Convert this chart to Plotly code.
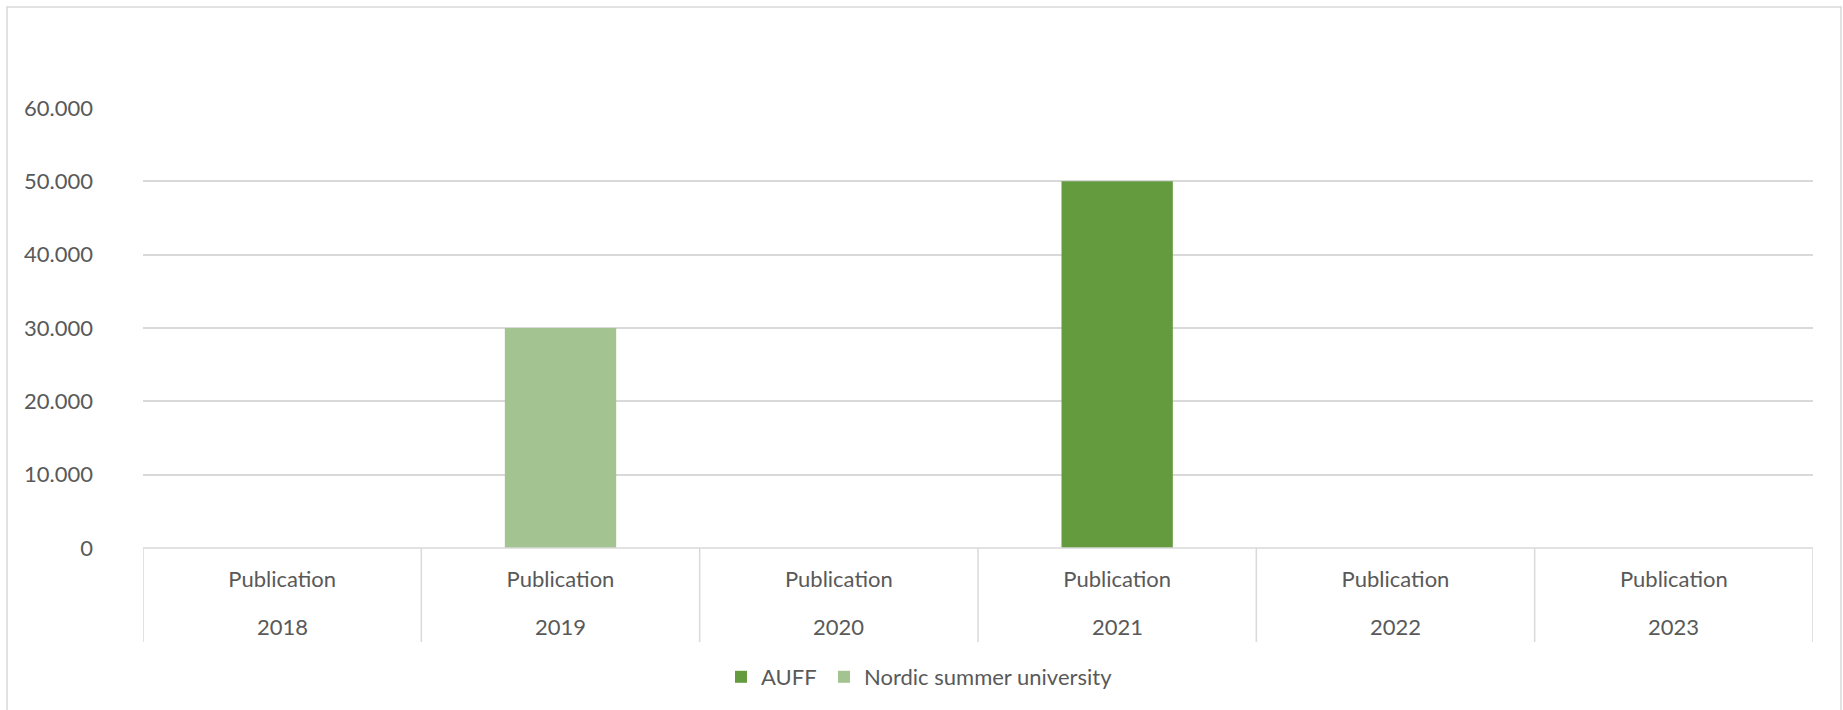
import plotly.graph_objects as go

years = ["2018", "2019", "2020", "2021", "2022", "2023"]
inner_label = "Publication"
auff = [None, None, None, 50000, None, None]
nordic = [None, 30000, None, None, None, None]
y_ticks = [0, 10000, 20000, 30000, 40000, 50000, 60000]
y_labels = ["0", "10.000", "20.000", "30.000", "40.000", "50.000", "60.000"]

FONT = "Lato"
TXT = "#595959"
GRID = "#D9D9D9"
FS = 22

W, H = 1843, 710
L, R, T, B = 143, 30, 108, 162
PH = H - T - B
PW = W - L - R

fig = go.Figure()
fig.add_trace(go.Bar(name="AUFF", x=years, y=auff, marker_color="#639B3E",
                     marker_line_width=0, legend="legend"))
fig.add_trace(go.Bar(name="Nordic summer university", x=years, y=nordic,
                     marker_color="#A3C490", marker_line_width=0, legend="legend2"))

shapes = [dict(type="rect", xref="paper", yref="paper",
               x0=(7 - L) / PW, x1=(1841 - L) / PW,
               y0=-(730 - T - PH) / PH, y1=(T + PH - 7) / PH,
               line=dict(color=GRID, width=1.5), layer="below")]
# category box: top line + vertical dividers at category boundaries
box_depth = (642 - (T + PH)) / PH
shapes.append(dict(type="line", xref="paper", yref="paper", x0=0, x1=1, y0=0, y1=0,
                   line=dict(color=GRID, width=1.5)))
for i in range(len(years) + 1):
    shapes.append(dict(type="line", xref="x", yref="paper", x0=i - 0.5, x1=i - 0.5,
                       y0=0, y1=-box_depth, line=dict(color=GRID, width=1.5)))

# outer category level (years)
annotations = [dict(text=y, x=i, xref="x", yref="paper", y=-(626 - T - PH) / PH,
                    yanchor="middle", showarrow=False,
                    font=dict(size=FS, color=TXT, family=FONT))
               for i, y in enumerate(years)]

leg_y = -(677 - T - PH) / PH
leg_common = dict(orientation="h", xref="container", xanchor="left",
                  y=leg_y, yanchor="middle", font=dict(size=FS, color=TXT),
                  bgcolor="rgba(0,0,0,0)")

fig.update_layout(
    width=W, height=H,
    barmode="overlay", bargap=0.6,
    paper_bgcolor="white", plot_bgcolor="white",
    margin=dict(l=L, r=R, t=T, b=B, autoexpand=False),
    font=dict(family=FONT, color=TXT, size=FS),
    legend=dict(x=(735 - 14) / W, **leg_common),
    legend2=dict(x=(838 - 14) / W, **leg_common),
    shapes=shapes,
    annotations=annotations,
    showlegend=True,
)
fig.update_xaxes(type="category", range=[-0.5, len(years) - 0.5],
                 tickvals=years, ticktext=[inner_label] * len(years),
                 showline=False, showgrid=False, ticks="", ticklabelstandoff=16,
                 tickfont=dict(size=FS, color=TXT))
fig.update_yaxes(range=[0, 60000], tickvals=y_ticks, ticktext=y_labels,
                 showgrid=True, gridcolor=GRID, gridwidth=1.5, zeroline=False,
                 showline=False, ticks="", ticklabelstandoff=49,
                 tickfont=dict(size=FS, color=TXT))

fig.write_html("out.html", config={"displayModeBar": False},
               post_script="document.body.style.margin='0';")
